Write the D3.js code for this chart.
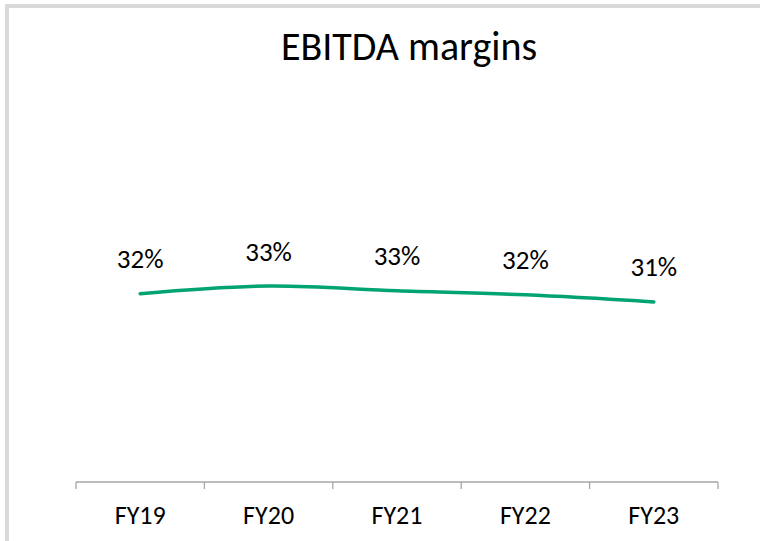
<!DOCTYPE html>
<html>
<head>
<meta charset="utf-8">
<script src="https://cdn.jsdelivr.net/npm/d3@7"></script>
<style>
  body { margin: 0; background: #fff; }
  svg text { font-family: Carlito, Calibri, Lato, sans-serif; fill: #000; }
</style>
</head>
<body>
<svg id="chart" width="760" height="541"></svg>
<script>
// data
var years = ["FY19", "FY20", "FY21", "FY22", "FY23"]
var margins = [0.321, 0.334, 0.326, 0.319, 0.307]
var title = "EBITDA margins"

var w = 760, h = 541
var left = 76, right = 718, axisY = 482, plotTop = 130

var svg = d3.select("#chart")

// frame (light grey, left + top only)
svg.append("rect").attr("x", 5).attr("y", 4).attr("width", 4).attr("height", h - 4).attr("fill", "#d9d9d9")
svg.append("rect").attr("x", 5).attr("y", 4).attr("width", w - 5).attr("height", 4).attr("fill", "#d9d9d9")

svg.append("text")
  .attr("x", 409).attr("y", 60)
  .attr("text-anchor", "middle")
  .style("font-size", "40px")
  .text(title)

var x = d3.scaleBand().domain(years).range([left, right]).paddingInner(0).paddingOuter(0)
var y = d3.scaleLinear().domain([0, 0.6]).range([axisY, plotTop])

// category axis with ticks on band edges
var axis = svg.append("g").attr("class", "x-axis")
axis.append("line")
  .attr("x1", left).attr("x2", right)
  .attr("y1", axisY).attr("y2", axisY)
  .attr("stroke", "#a6a6a6").attr("stroke-width", 1.3)
var edges = years.map(function(d) { return x(d) }).concat([right])
axis.selectAll("line.tick").data(edges).enter().append("line")
  .attr("class", "tick")
  .attr("x1", function(d) { return d }).attr("x2", function(d) { return d })
  .attr("y1", axisY).attr("y2", axisY + 7)
  .attr("stroke", "#a6a6a6").attr("stroke-width", 1.3)
axis.selectAll("text").data(years).enter().append("text")
  .attr("x", function(d) { return x(d) + x.bandwidth() / 2 })
  .attr("y", 524)
  .attr("text-anchor", "middle")
  .style("font-size", "26px")
  .text(function(d) { return d })

var pts = years.map(function(d, i) { return {name: d, value: margins[i]} })

var line = d3.line()
  .x(function(d) { return x(d.name) + x.bandwidth() / 2 })
  .y(function(d) { return y(d.value) })
  .curve(d3.curveCardinal.tension(0))

svg.append("path")
  .datum(pts)
  .attr("d", line)
  .attr("fill", "none")
  .attr("stroke", "#00a372")
  .attr("stroke-width", 3.5)
  .attr("stroke-linecap", "round")

svg.selectAll("text.lbl").data(pts).enter().append("text")
  .attr("class", "lbl")
  .attr("x", function(d) { return x(d.name) + x.bandwidth() / 2 })
  .attr("y", function(d) { return y(d.value) - 25.5 })
  .attr("text-anchor", "middle")
  .style("font-size", "27px")
  .text(function(d) { return d3.format(".0%")(d.value) })
</script>
</body>
</html>
